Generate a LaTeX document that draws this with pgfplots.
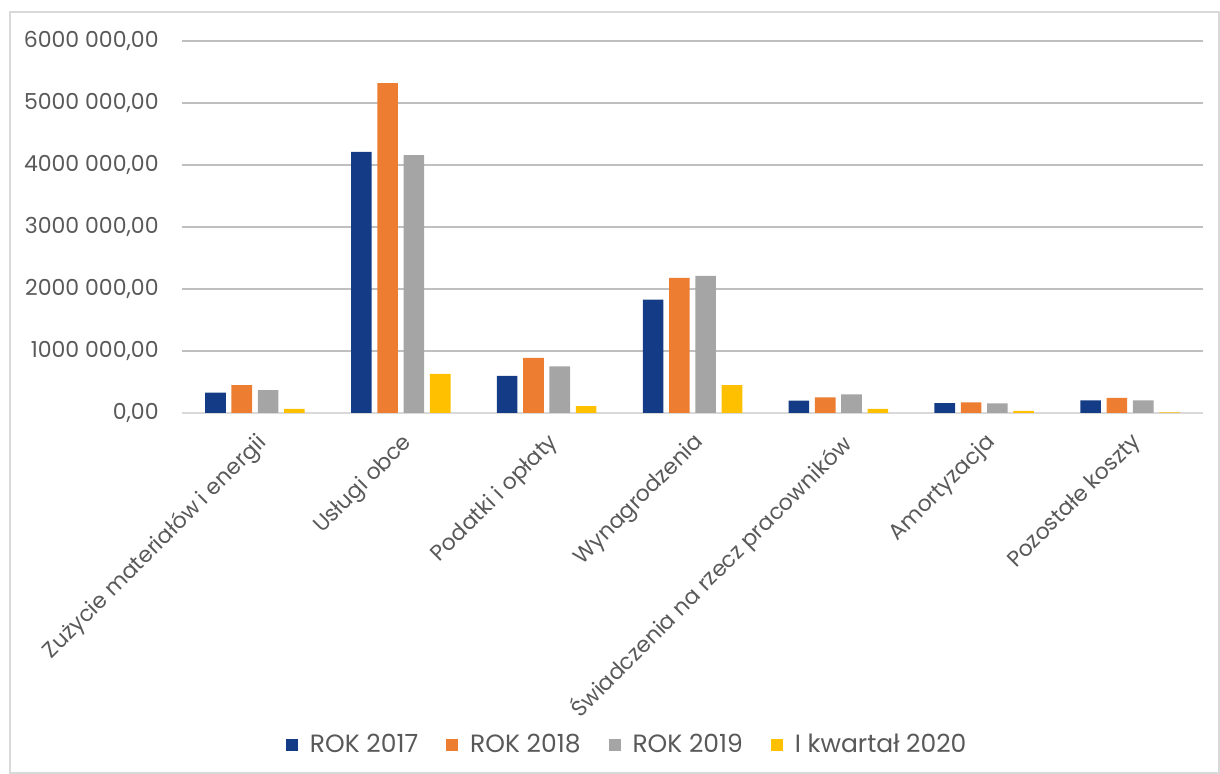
\documentclass[border=0pt]{standalone}
\usepackage{pgfplots}
\pgfplotsset{compat=1.18}
\usepackage{fontspec}
\setmainfont{Poppins}

\definecolor{cBlue}{HTML}{143C86}
\definecolor{cOrange}{HTML}{ED7D31}
\definecolor{cGray}{HTML}{A5A5A5}
\definecolor{cYellow}{HTML}{FFC000}
\definecolor{txt}{HTML}{595959}
\definecolor{grid}{HTML}{D9D9D9}

\begin{document}
\begin{tikzpicture}[x=1pt,y=1pt]
% 1 px of the reference = 0.5 pt
\useasboundingbox (0,0) rectangle (610,387);
\draw[grid, line width=0.6pt] (5,0.5) rectangle (609.5,381);
\begin{axis}[
    at={(91pt,180.5pt)}, anchor=south west,
    scale only axis,
    width=510.5pt, height=186pt,
    xmin=-0.5, xmax=6.5,
    ymin=0, ymax=6000000,
    ybar=2.85pt, bar width=10.3pt,
    axis x line*=bottom, axis y line*=left,
    x axis line style={grid, line width=0.8pt},
    y axis line style={draw=none},
    xmajorgrids=false, ymajorgrids, grid style={grid, line width=0.8pt},
    major tick length=0pt,
    scaled y ticks=false,
    xtick={0,...,6},
    xticklabels={Zużycie materiałów i energii, Usługi obce, Podatki i opłaty, Wynagrodzenia, Świadczenia na rzecz pracowników, Amortyzacja, Pozostałe koszty},
    xticklabel style={rotate=45, anchor=north east, inner sep=0pt, font=\fontsize{11}{13}\selectfont, text=txt},
    xticklabel shift=9pt,
    ytick={0,1000000,...,6000000},
    yticklabels={{0,00},{1000 000,00},{2000 000,00},{3000 000,00},{4000 000,00},{5000 000,00},{6000 000,00}},
    yticklabel style={anchor=east, inner sep=0pt, font=\fontsize{11}{13}\selectfont, text=txt},
    yticklabel shift=11.5pt,
    legend style={at={(0.437,-0.892)}, anchor=center, draw=none, legend columns=-1,
        font=\fontsize{12.5}{14}\selectfont, text=txt,
        /tikz/every even column/.append style={column sep=12pt}},
    legend image code/.code={\fill[#1] (0pt,-3pt) rectangle (6pt,3pt); \path (10pt,0pt);},
]
\addplot[fill=cBlue, draw=none] coordinates {(0,330000) (1,4210000) (2,600000) (3,1830000) (4,200000) (5,160000) (6,205000)};
\addplot[fill=cOrange, draw=none] coordinates {(0,450000) (1,5320000) (2,890000) (3,2180000) (4,250000) (5,170000) (6,245000)};
\addplot[fill=cGray, draw=none] coordinates {(0,370000) (1,4160000) (2,750000) (3,2210000) (4,300000) (5,155000) (6,205000)};
\addplot[fill=cYellow, draw=none] coordinates {(0,65000) (1,630000) (2,110000) (3,450000) (4,65000) (5,35000) (6,8000)};
\legend{ROK 2017, ROK 2018, ROK 2019, I kwartał 2020}
\end{axis}
\end{tikzpicture}
\end{document}
